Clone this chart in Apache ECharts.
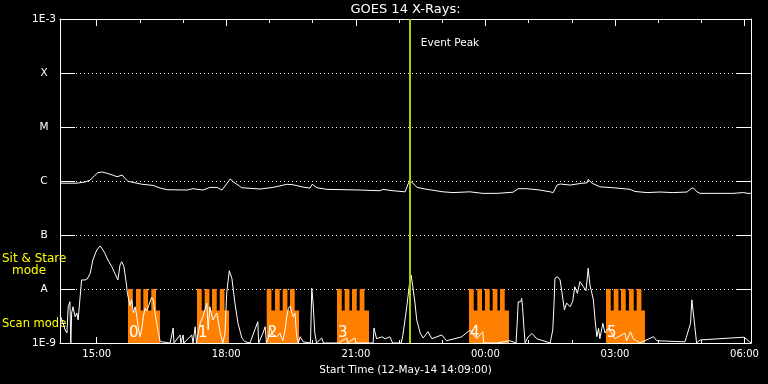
<!DOCTYPE html>
<html><head><meta charset="utf-8">
<script src="https://cdn.jsdelivr.net/npm/echarts@6/dist/echarts.min.js"></script>
<style>html,body{margin:0;padding:0;background:#000}#c{width:768px;height:384px}</style>
</head><body><div id="c"></div>
<script>
// ---- data (time = decimal hours from 12-May-14 00:00) ----
const startHour = 14.15, endHour = 30.15;
const xTickHours = [15, 18, 21, 24, 27, 30];
const xTickLabels = ['15:00', '18:00', '21:00', '00:00', '03:00', '06:00'];
const xMinorHours = [15, 16, 17, 18, 19, 20, 21, 22, 23, 24, 25, 26, 27, 28, 29, 30];
const yTickLabels = ['1E-9', 'A', 'B', 'C', 'M', 'X', '1E-3'];
const titleText = 'GOES 14 X-Rays:';
const xAxisTitle = 'Start Time (12-May-14 14:09:00)';
const eventPeak = 22.25;
const eventText = 'Event Peak';

const longTimes = [14.15,14.54,14.57,14.73,14.85,14.96,15.03,15.12,15.24,15.31,15.38,15.47,15.54,15.59,15.66,15.72,15.82,16.05,16.30,16.47,16.63,17.09,17.23,17.46,17.62,17.79,17.90,18.02,18.09,18.16,18.36,18.78,19.08,19.41,19.55,19.78,19.94,19.99,20.10,20.33,21.10,21.56,21.63,21.86,22.14,22.21,22.25,22.32,22.42,22.65,23.02,23.25,23.64,23.94,24.27,24.64,24.76,24.96,25.26,25.50,25.57,25.66,25.73,25.96,26.24,26.35,26.38,26.47,26.65,26.95,27.28,27.35,27.39,27.46,27.74,28.04,28.34,28.67,28.74,28.81,28.90,28.97,29.73,29.97,30.08,30.15];
const longFlux = [9.1e-7,9.1e-7,8.7e-7,9.6e-7,1.04e-6,1.28e-6,1.43e-6,1.47e-6,1.39e-6,1.33e-6,1.28e-6,1.20e-6,1.25e-6,1.29e-6,1.10e-6,9.9e-7,9.5e-7,8.7e-7,8.3e-7,7.4e-7,6.9e-7,6.8e-7,7.2e-7,6.8e-7,7.6e-7,7.6e-7,6.8e-7,9.1e-7,1.09e-6,9.7e-7,7.5e-7,7.1e-7,7.6e-7,8.7e-7,8.5e-7,7.7e-7,7.4e-7,8.7e-7,7.5e-7,7.0e-7,6.8e-7,6.6e-7,7.0e-7,6.6e-7,6.3e-7,8.8e-7,1.0e-6,9.1e-7,7.6e-7,7.0e-7,6.3e-7,6.1e-7,6.3e-7,5.9e-7,5.9e-7,6.2e-7,7.2e-7,7.2e-7,6.8e-7,6.3e-7,6.1e-7,8.4e-7,8.8e-7,8.4e-7,9.1e-7,9.2e-7,1.07e-6,9.1e-7,7.8e-7,7.5e-7,7.1e-7,7.0e-7,7.4e-7,6.4e-7,6.1e-7,6.25e-7,6.1e-7,6.25e-7,7.0e-7,7.5e-7,6.3e-7,5.9e-7,5.9e-7,6.1e-7,5.9e-7,5.9e-7];

const shortTimes = [14.15,14.17,14.22,14.27,14.31,14.34,14.38,14.40,14.42,14.45,14.50,14.54,14.57,14.61,14.65,14.68,14.73,14.78,14.85,14.91,15.00,15.08,15.12,15.19,15.26,15.35,15.42,15.49,15.54,15.58,15.63,15.68,15.71,15.77,15.81,15.85,15.89,15.93,15.96,16.00,16.04,16.08,16.12,16.16,16.19,16.27,16.31,16.35,16.39,16.43,16.47,16.51,16.70,16.77,16.79,16.93,16.95,17.00,17.02,17.20,17.23,17.28,17.31,17.35,17.40,17.46,17.55,17.58,17.62,17.69,17.78,17.86,17.92,17.97,18.01,18.07,18.13,18.20,18.27,18.36,18.43,18.55,18.73,18.75,18.85,18.90,18.93,18.97,19.01,19.08,19.17,19.24,19.31,19.36,19.40,19.44,19.48,19.52,19.55,19.59,19.63,19.67,19.71,19.78,19.95,19.98,20.01,20.05,20.09,20.21,20.25,20.59,20.79,20.81,20.98,21.00,21.40,21.42,21.48,21.60,21.68,21.79,21.85,22.05,22.09,22.18,22.24,22.28,22.32,22.37,22.41,22.49,22.56,22.67,22.76,22.99,23.10,23.45,23.64,23.80,23.94,23.96,24.26,24.57,24.71,24.74,24.76,24.82,24.84,24.86,24.89,24.92,24.99,25.08,25.19,25.50,25.56,25.59,25.61,25.67,25.73,25.77,25.83,25.88,25.96,26.02,26.07,26.13,26.19,26.27,26.33,26.38,26.42,26.50,26.54,26.58,26.62,26.65,26.72,26.77,26.85,26.92,27.00,27.23,27.27,27.36,27.42,27.58,27.89,27.97,28.62,28.75,28.78,28.81,28.85,28.89,28.97,29.99,30.15];
const shortFlux = [3.3e-9,3.3e-9,2.35e-9,1.74e-9,1.53e-9,4.7e-9,5.8e-9,1e-9,3.6e-9,4.7e-9,3.07e-9,3.6e-9,2.67e-9,6.3e-9,1.47e-8,1.58e-8,1.47e-8,1.53e-8,1.95e-8,3.44e-8,5.27e-8,6.26e-8,5.67e-8,4.58e-8,3.44e-8,2.59e-8,1.95e-8,1.47e-8,2.78e-8,3.2e-8,2.59e-8,1.37e-8,8.4e-9,4.9e-9,6.3e-9,3.6e-9,4.7e-9,3.07e-9,2.0e-9,1.31e-9,1.74e-9,3.07e-9,4.4e-9,3.9e-9,3.6e-9,7.0e-9,6.3e-9,3.6e-9,2.3e-9,1.5e-9,1.06e-9,1e-9,1e-9,1.9e-9,1e-9,1.41e-9,1e-9,1.41e-9,1e-9,1.41e-9,1e-9,2.0e-9,1e-9,1.5e-9,2.4e-9,3.07e-9,5.5e-9,1.74e-9,4.7e-9,2.67e-9,3.6e-9,1.53e-9,1e-9,1.5e-9,8.4e-9,2.18e-8,1.58e-8,5.5e-9,2.35e-9,1.24e-9,1.06e-9,1e-9,2.48e-9,1e-9,1.53e-9,2.0e-9,1e-9,1.2e-9,2.0e-9,1.41e-9,1.31e-9,1.53e-9,1.1e-9,1.74e-9,3.07e-9,4.4e-9,4.84e-9,3.6e-9,3.07e-9,3.6e-9,1.31e-9,1e-9,1.31e-9,1.05e-9,1e-9,1.03e-8,5.5e-9,1.53e-9,1e-9,1.24e-9,1e-9,1e-9,1.24e-9,1e-9,1.24e-9,1e-9,1e-9,1.9e-9,1.2e-9,1.3e-9,1.2e-9,1.3e-9,1e-9,1e-9,1.41e-9,4.7e-9,1.19e-8,1.82e-8,1.1e-8,5.5e-9,2.67e-9,1.53e-9,1.24e-9,1.62e-9,1.2e-9,1.41e-9,1.1e-9,1.3e-9,1.74e-9,1.2e-9,1.62e-9,1e-9,1e-9,1.1e-9,1e-9,2.67e-9,5.8e-9,5.8e-9,6.7e-9,4.7e-9,2.0e-9,1e-9,1.3e-9,1.5e-9,1.2e-9,1e-9,1.74e-9,5.5e-9,1.58e-8,1.69e-8,1.47e-8,8.9e-9,4.1e-9,5.5e-9,4.7e-9,5.8e-9,1.1e-8,8.3e-9,1.37e-8,1.1e-8,9.3e-9,2.42e-8,1.19e-8,6.3e-9,2.67e-9,1.31e-9,1.87e-9,1.2e-9,2.32e-9,1.53e-9,1.87e-9,1.53e-9,1.2e-9,1.53e-9,1.1e-9,1.62e-9,1.2e-9,1e-9,1.31e-9,1.1e-9,1.05e-9,2.32e-9,6.3e-9,5.8e-9,2.0e-9,1e-9,1.14e-9,1.28e-9,1e-9];

// scan-mode blocks (start/end hour, tooth start hours, label)
const scanStarts = [15.724, 17.322, 18.936, 20.564, 23.620, 26.792];
const scanEnds   = [16.465, 18.063, 19.684, 21.305, 24.546, 27.695];
const scanTeeth = [
  [15.724, 15.910, 16.079, 16.264],
  [17.322, 17.500, 17.669, 17.848],
  [18.936, 19.128, 19.306, 19.475],
  [20.564, 20.742, 20.911, 21.089],
  [23.620, 23.812, 23.990, 24.169, 24.338],
  [26.792, 26.971, 27.139, 27.325, 27.503]
];
const scanLabels = ['0', '1', '2', '3', '4', '5'];
const toothWidth = 0.11;
const scanFloor = 1e-9, scanBaseTop = 4e-9, scanToothTop = 1e-8, scanLabelLevel = 1.5e-9;

// ---- chart ----
const FONT = 'DejaVu Sans';
const FG = '#ffffff';
const ORANGE = '#ff8000';
const EVENT = '#a2d400';
const chart = echarts.init(document.getElementById('c'), null, {renderer: 'canvas'});

function xAxisDef(pos, tickVals, len, showLine, showLabel) {
  return {
    type: 'value', position: pos, min: startHour, max: endHour,
    axisLine: {show: showLine, onZero: false, lineStyle: {color: FG, width: 1}},
    axisTick: {show: true, inside: true, length: len, customValues: tickVals, lineStyle: {color: FG, width: 1}},
    axisLabel: showLabel ? {
      show: true, customValues: xTickHours, color: FG, fontSize: 10, fontFamily: FONT, margin: 6,
      formatter: v => xTickLabels[xTickHours.indexOf(Math.round(v))]
    } : {show: false},
    splitLine: {show: false}
  };
}
function yAxisDef(pos, showLabel, showSplit) {
  return {
    type: 'log', logBase: 10, min: 1e-9, max: 1e-3, splitNumber: 6, position: pos,
    axisLine: {show: true, lineStyle: {color: FG, width: 1}},
    axisTick: {show: true, inside: true, length: 15, lineStyle: {color: FG, width: 1}},
    axisLabel: showLabel ? {
      show: true, color: FG, fontSize: 10.5, fontFamily: FONT, align: 'center', margin: 16,
      formatter: v => yTickLabels[Math.round(Math.log10(v)) + 9]
    } : {show: false},
    splitLine: {show: showSplit, lineStyle: {color: FG, width: 1, type: [1, 3]}}
  };
}

const xMain = xAxisDef('bottom', xTickHours, 6, true, true);
xMain.name = xAxisTitle;
xMain.nameLocation = 'middle';
xMain.nameGap = 22;
xMain.nameTextStyle = {color: FG, fontSize: 10.5, fontFamily: FONT};

const option = {
  backgroundColor: '#000',
  animation: false,
  grid: {left: 60, right: 17, top: 19, bottom: 41, containLabel: false},
  xAxis: [
    xMain,
    xAxisDef('bottom', xMinorHours, 3, false, false),
    xAxisDef('top', xTickHours, 7, true, false),
    xAxisDef('top', xMinorHours, 4, false, false)
  ],
  yAxis: [yAxisDef('left', true, true), yAxisDef('right', false, false)],
  series: [
    {
      type: 'custom', xAxisIndex: 0, yAxisIndex: 0, z: 1, silent: true,
      encode: {x: [0, 1], y: 2},
      data: scanStarts.map((s, i) => [s, scanEnds[i], scanFloor]),
      renderItem: function (params, api) {
        const i = params.dataIndex;
        const s = api.value(0), e = api.value(1);
        const bl = api.coord([s, scanFloor]);
        const tr = api.coord([e, scanBaseTop]);
        const children = [{
          type: 'rect',
          shape: {x: bl[0], y: tr[1], width: tr[0] - bl[0], height: bl[1] - tr[1]},
          style: {fill: ORANGE}
        }];
        scanTeeth[i].forEach(t => {
          const a = api.coord([t, scanBaseTop]);
          const b = api.coord([t + toothWidth, scanToothTop]);
          children.push({
            type: 'rect',
            shape: {x: a[0], y: b[1], width: b[0] - a[0], height: a[1] - b[1] + 0.5},
            style: {fill: ORANGE}
          });
        });
        children.push({
          type: 'text', z2: 10,
          style: {
            text: scanLabels[i], x: bl[0] + 1, y: api.coord([s, scanLabelLevel])[1],
            fill: FG, fontSize: 15, fontFamily: FONT, align: 'left', verticalAlign: 'middle'
          }
        });
        return {type: 'group', children: children};
      }
    },
    {
      type: 'line', name: 'long', xAxisIndex: 0, yAxisIndex: 0, z: 3,
      showSymbol: false, symbol: 'none',
      lineStyle: {color: FG, width: 1},
      data: longTimes.map((t, i) => [t, longFlux[i]]),
      markLine: {
        silent: true, symbol: ['none', 'none'], z: 4,
        lineStyle: {color: EVENT, width: 2, type: 'solid'},
        label: {show: false},
        data: [{xAxis: eventPeak}]
      }
    },
    {
      type: 'line', name: 'short', xAxisIndex: 0, yAxisIndex: 0, z: 3,
      showSymbol: false, symbol: 'none',
      lineStyle: {color: FG, width: 1},
      data: shortTimes.map((t, i) => [t, shortFlux[i]])
    }
  ]
};
chart.setOption(option);

const evX = chart.convertToPixel({xAxisIndex: 0}, eventPeak);
const plotMidX = (chart.convertToPixel({xAxisIndex: 0}, startHour) + chart.convertToPixel({xAxisIndex: 0}, endHour)) / 2;
chart.setOption({
  graphic: [
    {type: 'text', x: plotMidX, y: 10, style: {text: titleText, fill: FG, fontSize: 13, fontFamily: FONT, align: 'center', verticalAlign: 'middle'}},
    {type: 'text', x: evX + 11, y: 43, style: {text: eventText, fill: FG, fontSize: 10.5, fontFamily: FONT, align: 'left', verticalAlign: 'middle'}},
    {type: 'text', x: 2, y: 259, style: {text: 'Sit & Stare', fill: '#ffff00', fontSize: 12, fontFamily: FONT, align: 'left', verticalAlign: 'middle'}},
    {type: 'text', x: 12, y: 271, style: {text: 'mode', fill: '#ffff00', fontSize: 12, fontFamily: FONT, align: 'left', verticalAlign: 'middle'}},
    {type: 'text', x: 2, y: 324, style: {text: 'Scan mode', fill: '#ffff00', fontSize: 11.5, fontFamily: FONT, align: 'left', verticalAlign: 'middle'}}
  ]
});
</script>
</body></html>
